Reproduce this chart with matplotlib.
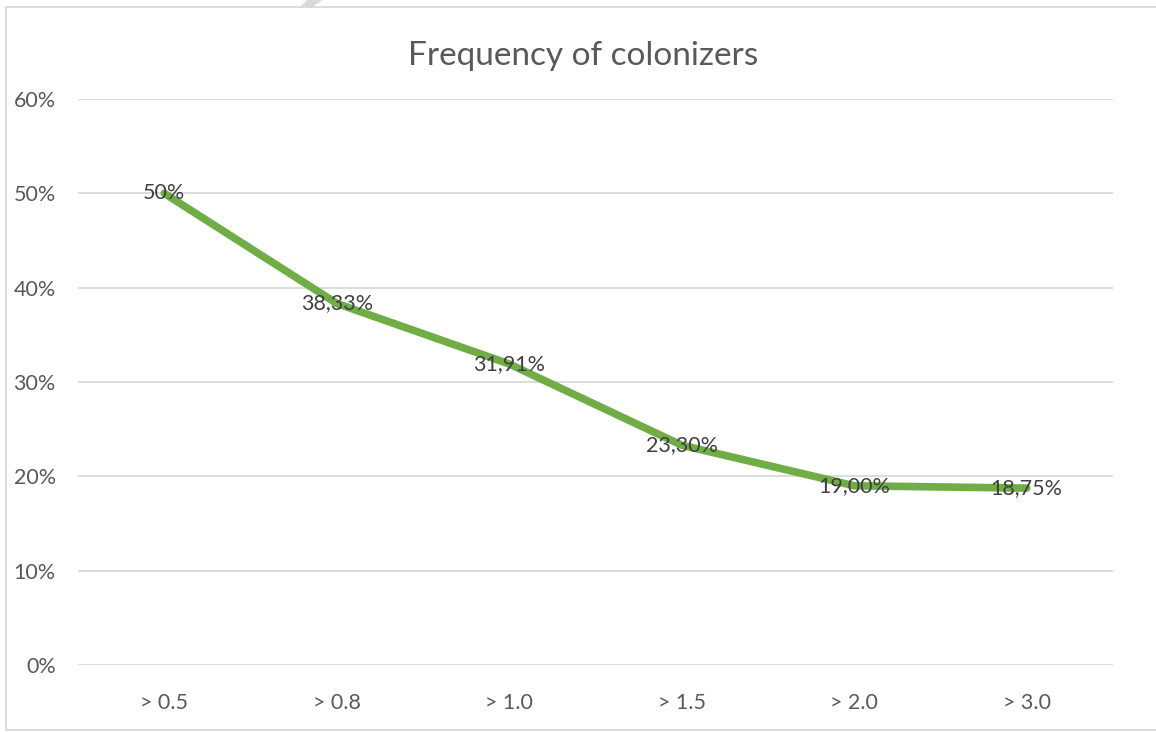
import matplotlib.pyplot as plt
from matplotlib.patches import Polygon, Rectangle
from matplotlib.ticker import FuncFormatter

# thresholds and share of colonizers above each one
categories = ["> 0.5", "> 0.8", "> 1.0", "> 1.5", "> 2.0", "> 3.0"]
frequency = [50.0, 38.33, 31.91, 23.30, 19.00, 18.75]
labels = ["50%", "38,33%", "31,91%", "23,30%", "19,00%", "18,75%"]

plt.rcParams["font.family"] = ["Lato", "DejaVu Sans"]

W, H = 1156, 732
fig = plt.figure(figsize=(W / 100, H / 100), dpi=100)
ax = fig.add_axes([78 / W, 1 - 665 / H, (1113 - 78) / W, (665 - 99) / H])

x = range(len(categories))
ax.plot(x, frequency, color="#70AD47", linewidth=5.5,
        solid_capstyle="round", solid_joinstyle="round", zorder=3)
for xi, yi, lab in zip(x, frequency, labels):
    ax.text(xi, yi, lab, ha="center", va="center", fontsize=15.5,
            color="#404040", zorder=4)

ax.set_xlim(-0.5, len(categories) - 0.5)
ax.set_ylim(0, 60)
ax.set_yticks(range(0, 61, 10))
ax.yaxis.set_major_formatter(FuncFormatter(lambda v, _: "%d%%" % v))
ax.set_xticks(list(x))
ax.set_xticklabels(categories)
ax.tick_params(length=0, labelsize=15.5, colors="#595959")
ax.tick_params(axis="x", pad=20)
ax.tick_params(axis="y", pad=16)
ax.grid(axis="y", color="#D9D9D9", linewidth=1.3)
ax.set_axisbelow(True)
for s in ax.spines.values():
    s.set_visible(False)

fig.text(583 / W, 1 - 56 / H, "Frequency of colonizers", ha="center",
         va="center", fontsize=24, color="#595959")

# chart border and a bit of the page watermark peeking above it
fig.patches.append(Rectangle((5.5 / W, 1 - 730 / H), 1.2, (730 - 7) / H,
                             transform=fig.transFigure, fill=False,
                             edgecolor="#D9D9D9", linewidth=1.3))
fig.patches.append(Polygon([(300 / W, 1 - 7 / H), (312 / W, 1 - 7 / H),
                            (323 / W, 1.0), (307 / W, 1.0)],
                           closed=True, transform=fig.transFigure,
                           facecolor="#D9D9D9", edgecolor="none"))

fig.savefig("out.png", dpi=100, facecolor="white")
